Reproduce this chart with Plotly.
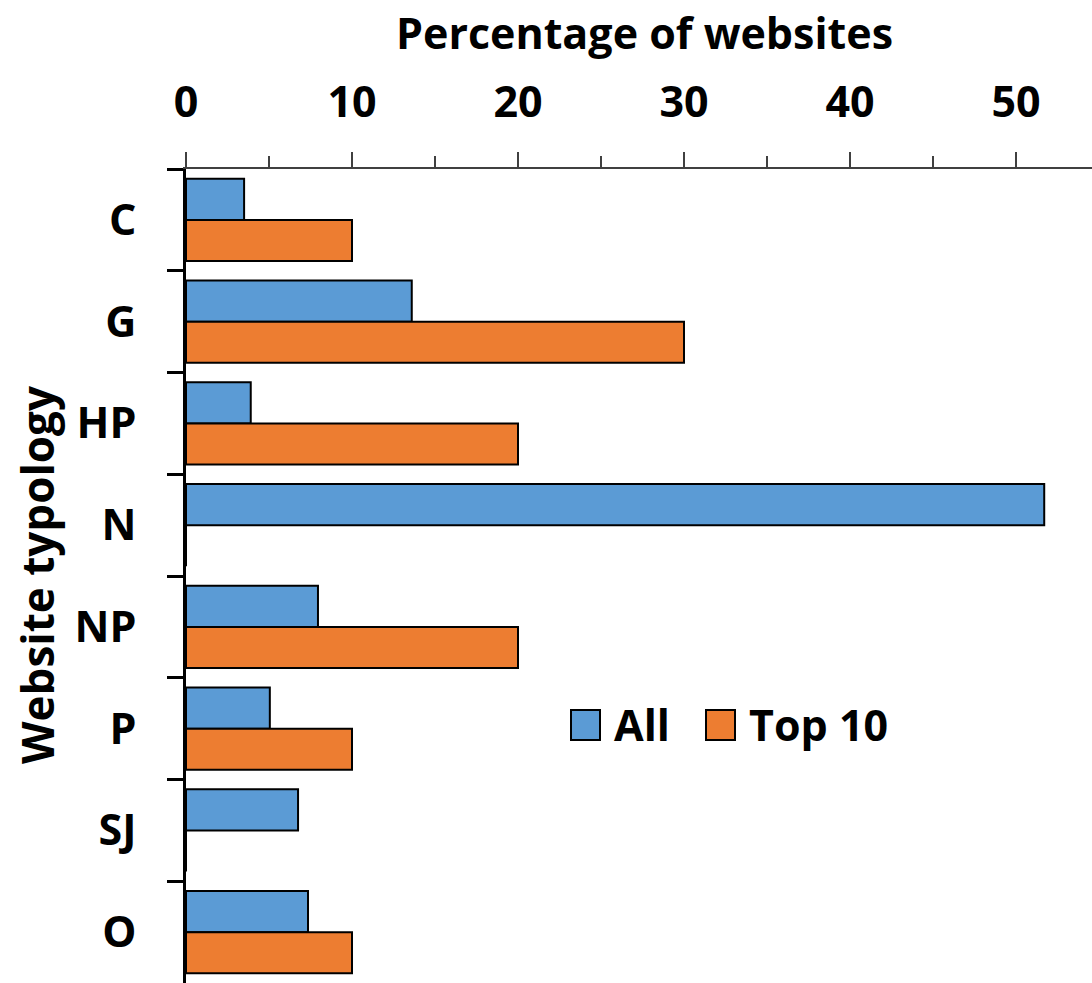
import plotly.graph_objects as go

categories = ["C", "G", "HP", "N", "NP", "P", "SJ", "O"]
all_values = [3.5, 13.6, 3.9, 51.7, 7.95, 5.05, 6.75, 7.35]
top10_values = [10, 30, 20, 0, 20, 10, 0, 10]
series_names = ["All", "Top 10"]
series_colors = ["#5B9BD5", "#ED7D31"]
x_ticks = [0, 10, 20, 30, 40, 50]

W, H = 1092, 983
L, T = 186, 169
FONT = "Open Sans"
FS = 43

fig = go.Figure()
for name, vals, col in zip(series_names, [all_values, top10_values], series_colors):
    fig.add_trace(go.Bar(
        y=categories, x=vals, name=name, orientation="h",
        marker=dict(color=col, line=dict(color="black", width=2)),
        showlegend=False,
    ))

fig.update_layout(
    width=W, height=H,
    margin=dict(l=L, t=T, r=0, b=0, pad=0),
    plot_bgcolor="white", paper_bgcolor="white",
    barmode="group", bargap=0.19, bargroupgap=0.0,
    font=dict(family=FONT, color="black", size=FS),
)
fig.update_xaxes(
    side="top", range=[0, (W - L) / 16.6], tickvals=x_ticks,
    showgrid=False, zeroline=False,
    showline=True, linecolor="#404040", linewidth=1.5,
    ticks="outside", ticklen=15, tickwidth=1.5, tickcolor="#404040",
    minor=dict(dtick=5, ticks="outside", ticklen=11, tickwidth=1.5, tickcolor="#404040", showgrid=False),
    tickfont=dict(family=FONT, size=FS, color="black", weight="bold"),
    ticklabelstandoff=18,
)
fig.update_yaxes(
    categoryorder="array", categoryarray=categories, autorange="reversed",
    showgrid=False, zeroline=False,
    showline=True, linecolor="black", linewidth=3,
    ticks="outside", ticklen=16, tickwidth=3, tickcolor="black",
    tickson="boundaries",
    tickfont=dict(family=FONT, size=FS, color="black", weight="bold"),
    ticklabelstandoff=38,
)

def px_x(px):
    return (px - L) / (W - L)

def px_y(py):
    return (H - py) / (H - T)

fig.add_annotation(text="<b>Percentage of websites</b>", xref="paper", yref="paper",
                   x=px_x(644), y=px_y(32), showarrow=False,
                   font=dict(family=FONT, size=43, color="black"), xanchor="center", yanchor="middle")
fig.add_annotation(text="<b>Website typology</b>", xref="paper", yref="paper",
                   x=px_x(37), y=px_y(575), showarrow=False, textangle=-90,
                   font=dict(family=FONT, size=44, color="black"), xanchor="center", yanchor="middle")

# manual legend
leg = [(571, 612), (706, 747)]
for (sx, tx), name, col in zip(leg, series_names, series_colors):
    fig.add_shape(type="rect", xref="paper", yref="paper",
                  x0=px_x(sx), x1=px_x(sx + 29), y0=px_y(740), y1=px_y(710),
                  fillcolor=col, line=dict(color="black", width=2))
    fig.add_annotation(text="<b>%s</b>" % name, xref="paper", yref="paper",
                       x=px_x(tx), y=px_y(724), showarrow=False, xanchor="left", yanchor="middle",
                       font=dict(family=FONT, size=43, color="black"))

fig.write_html("out.html", config={"displayModeBar": False},
               post_script="document.body.style.margin='0';")
